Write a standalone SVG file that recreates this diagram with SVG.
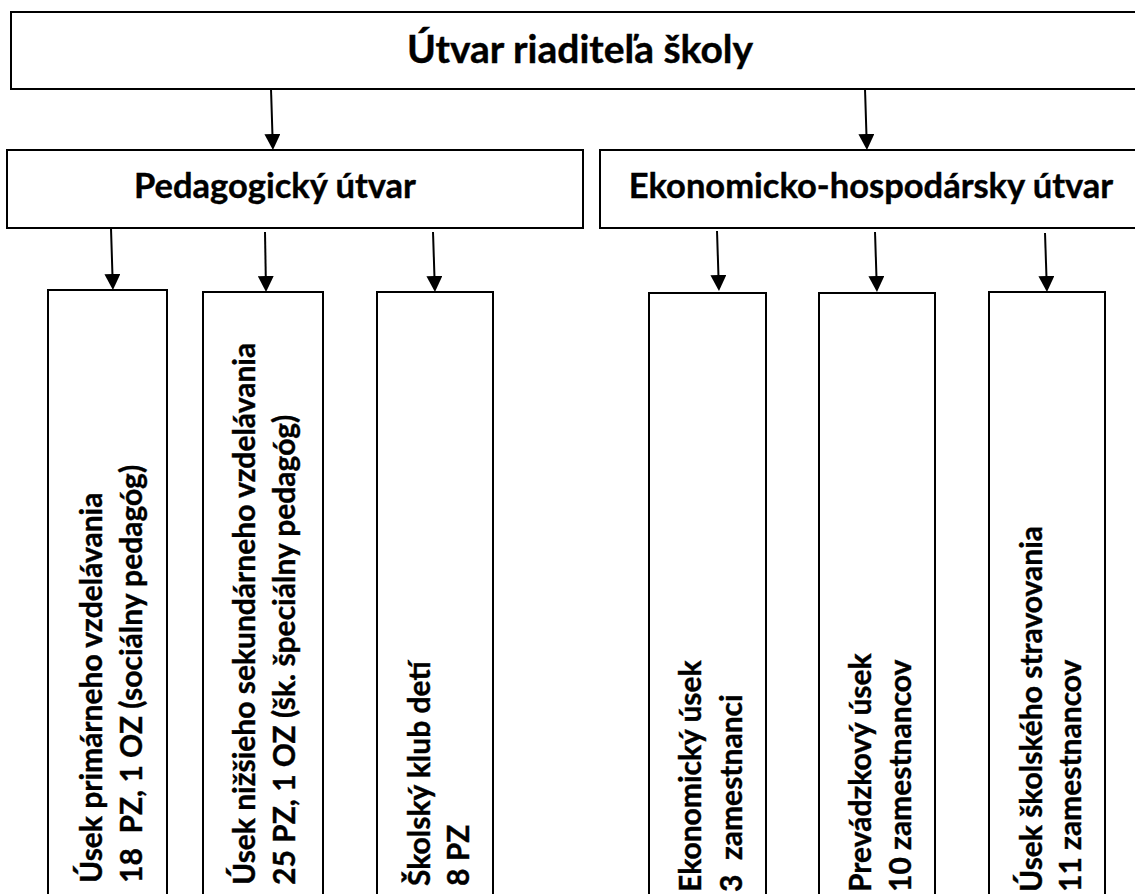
<svg xmlns="http://www.w3.org/2000/svg" width="1135" height="894" viewBox="0 0 1135 894">
  <style>
    .box { fill: #ffffff; stroke: #000000; stroke-width: 2; }
    .link { fill: none; stroke: #000000; stroke-width: 2; marker-end: url(#head); }
    .t { font-family: Lato, "Liberation Sans", sans-serif; font-weight: bold; fill: #000000; stroke: #000000; stroke-width: 0.4; white-space: pre; }
    .h1 { font-size: 39px; text-anchor: middle; }
    .h2 { font-size: 34.5px; text-anchor: middle; }
    .v { font-size: 30px; }
  </style>
  <defs>
    <marker id="head" markerUnits="userSpaceOnUse" markerWidth="16" markerHeight="16" refX="2" refY="8" orient="auto">
      <path d="M0,0 L16,8 L0,16 Z" fill="#000000"/>
    </marker>
  </defs>

  <rect width="1135" height="894" fill="#ffffff"/>

  <!-- connectors -->
  <g id="connectors">
    <path class="link" d="M271,89 L272.5,136"/>
    <path class="link" d="M865,89 L866.5,136"/>
    <path class="link" d="M111,228 L112.5,276"/>
    <path class="link" d="M265,232 L265.8,278"/>
    <path class="link" d="M433,232 L434.5,278"/>
    <path class="link" d="M717,231 L718.5,277"/>
    <path class="link" d="M875,232 L876.5,278"/>
    <path class="link" d="M1045,233 L1046.5,278"/>
  </g>

  <!-- top level -->
  <g id="riaditel">
    <rect class="box" x="11" y="12" width="1140" height="77"/>
    <text class="t h1" x="580" y="63">Útvar riaditeľa školy</text>
  </g>

  <!-- second level -->
  <g id="pedagogicky">
    <rect class="box" x="7" y="150" width="576" height="78"/>
    <text class="t h2" x="275" y="198">Pedagogický útvar</text>
  </g>
  <g id="ekonomicky">
    <rect class="box" x="600" y="150" width="550" height="78"/>
    <text class="t h2" x="871" y="198">Ekonomicko-hospodársky útvar</text>
  </g>

  <!-- sections, labels run bottom to top -->
  <g id="primarne">
    <rect class="box" x="48" y="290" width="119" height="620"/>
    <text class="t v" xml:space="preserve" transform="translate(102,883) rotate(-90)"><tspan x="0" y="0">Úsek primárneho vzdelávania</tspan><tspan x="0" y="40">18  PZ, 1 OZ (sociálny pedagóg)</tspan></text>
  </g>
  <g id="sekundarne">
    <rect class="box" x="203" y="292" width="120" height="620"/>
    <text class="t v" xml:space="preserve" transform="translate(255,885) rotate(-90)"><tspan x="0" y="0">Úsek nižšieho sekundárneho vzdelávania</tspan><tspan x="0" y="40">25 PZ, 1 OZ (šk. špeciálny pedagóg)</tspan></text>
  </g>
  <g id="skd">
    <rect class="box" x="377" y="292" width="116" height="620"/>
    <text class="t v" xml:space="preserve" transform="translate(430,886) rotate(-90)"><tspan x="0" y="0">Školský klub detí</tspan><tspan x="0" y="39">8 PZ</tspan></text>
  </g>
  <g id="ekonomicky-usek">
    <rect class="box" x="649" y="293" width="117" height="620"/>
    <text class="t v" xml:space="preserve" transform="translate(701,892) rotate(-90)"><tspan x="0" y="0">Ekonomický úsek</tspan><tspan x="0" y="41">3  zamestnanci</tspan></text>
  </g>
  <g id="prevadzkovy-usek">
    <rect class="box" x="819" y="293" width="116" height="620"/>
    <text class="t v" xml:space="preserve" transform="translate(871,892) rotate(-90)"><tspan x="0" y="0">Prevádzkový úsek</tspan><tspan x="0" y="40">10 zamestnancov</tspan></text>
  </g>
  <g id="stravovanie">
    <rect class="box" x="989" y="292" width="116" height="620"/>
    <text class="t v" xml:space="preserve" transform="translate(1042,892) rotate(-90)"><tspan x="0" y="0">Úsek školského stravovania</tspan><tspan x="0" y="39">11 zamestnancov</tspan></text>
  </g>
</svg>
